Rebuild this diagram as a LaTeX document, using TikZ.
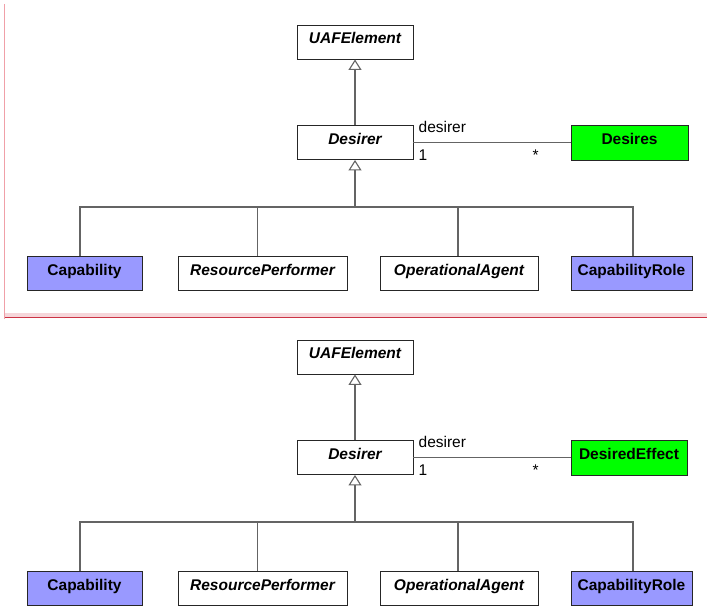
\documentclass[tikz,border=0pt]{standalone}
\usepackage{fontspec}
\setmainfont{Liberation Sans}
\usepackage{xcolor}
\usetikzlibrary{arrows.meta, positioning}

\definecolor{capblue}{RGB}{153,153,255}
\definecolor{effgreen}{RGB}{0,255,0}
\definecolor{linegray}{RGB}{100,100,100}
\definecolor{framepink}{RGB}{240,160,168}
\definecolor{bandpink}{RGB}{246,214,218}
\definecolor{framered}{RGB}{204,51,68}

\begin{document}
\begin{tikzpicture}[
  x=1pt, y=-1pt,
  font=\fontsize{15.5}{18}\selectfont,
  box/.style={
    draw=black!85,
    fill=white,
    line width=0.9pt,
    inner sep=0pt,
    minimum height=34pt,
    text height=11pt,
    text depth=8pt,
    font=\fontsize{15.5}{18}\selectfont\bfseries
  },
  abstractbox/.style={
    box,
    font=\fontsize{15.5}{18}\selectfont\bfseries\itshape
  },
  rolebox/.style={box, fill=capblue},
  effectbox/.style={box, fill=effgreen},
  conn/.style={
    draw=linegray,
    line width=1.1pt
  },
  inherit/.style={
    conn,
    -{Triangle[open, length=10.5pt, width=13pt, fill=white]}
  },
  lbl/.style={inner sep=0pt}
]
\useasboundingbox (0,0) rectangle (708,607);

% Frame round the upper diagram
\fill[bandpink] (5,312.7) rectangle (707,316.7);
\draw[framered, line width=1pt] (5,317.2) -- (707,317.2);
\draw[framepink, line width=1.3pt] (4.7,4) -- (4.7,319);

% Upper diagram
\node[abstractbox, minimum width=116pt] (uaf1) at (355,42) {UAFElement};
\node[abstractbox, minimum width=116pt] (desirer1) at (355,142.5) {Desirer};
\node[effectbox, minimum width=117pt, minimum height=35pt] (desires1) at (629.5,142.5) {Desires};

\node[rolebox, minimum width=115pt] (cap1) at (84.5,273.5) {Capability};
\node[abstractbox, minimum width=169pt] (rp1) at (262.5,273.5) {ResourcePerformer};
\node[abstractbox, minimum width=158pt] (oa1) at (459,273.5) {OperationalAgent};
\node[rolebox, minimum width=121pt] (caprole1) at (631.5,273.5) {CapabilityRole};

\coordinate (fork1) at (355,207);

\draw[inherit] (desirer1) -- (uaf1);
\draw[conn] (desirer1) -- (desires1);
\node[lbl, anchor=base west] at ([xshift=5pt, yshift=10pt]desirer1.east) {desirer};
\node[lbl, anchor=base west] at ([xshift=5pt, yshift=-17.5pt]desirer1.east) {1};
\node[lbl, anchor=base] at ([xshift=-35pt, yshift=-18pt]desires1.west) {*};

\draw[conn] ([xshift=-4.5pt]cap1.north) |- (fork1);
\draw[conn] ([xshift=-5pt]rp1.north) |- (fork1);
\draw[conn] ([xshift=-1pt]oa1.north) |- (fork1);
\draw[conn] ([xshift=1.5pt]caprole1.north) |- (fork1);
\draw[inherit] (fork1) -- (desirer1.south);

% Lower diagram
\begin{scope}[yshift=-315pt]
\node[abstractbox, minimum width=116pt] (uaf2) at (355,42) {UAFElement};
\node[abstractbox, minimum width=116pt] (desirer2) at (355,142.5) {Desirer};
\node[effectbox, minimum width=116pt, minimum height=35pt] (effect2) at (629,142.5) {DesiredEffect};

\node[rolebox, minimum width=115pt] (cap2) at (84.5,273.5) {Capability};
\node[abstractbox, minimum width=169pt] (rp2) at (262.5,273.5) {ResourcePerformer};
\node[abstractbox, minimum width=158pt] (oa2) at (459,273.5) {OperationalAgent};
\node[rolebox, minimum width=121pt] (caprole2) at (631.5,273.5) {CapabilityRole};

\coordinate (fork2) at (355,207);

\draw[inherit] (desirer2) -- (uaf2);
\draw[conn] (desirer2) -- (effect2);
\node[lbl, anchor=base west] at ([xshift=5pt, yshift=10pt]desirer2.east) {desirer};
\node[lbl, anchor=base west] at ([xshift=5pt, yshift=-17.5pt]desirer2.east) {1};
\node[lbl, anchor=base] at ([xshift=-35pt, yshift=-18pt]effect2.west) {*};

\draw[conn] ([xshift=-4.5pt]cap2.north) |- (fork2);
\draw[conn] ([xshift=-5pt]rp2.north) |- (fork2);
\draw[conn] ([xshift=-1pt]oa2.north) |- (fork2);
\draw[conn] ([xshift=1.5pt]caprole2.north) |- (fork2);
\draw[inherit] (fork2) -- (desirer2.south);
\end{scope}

\end{tikzpicture}
\end{document}
